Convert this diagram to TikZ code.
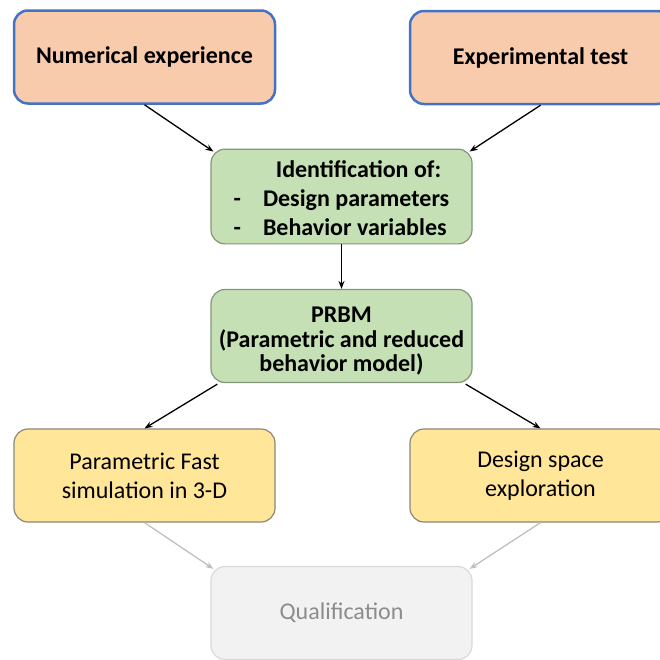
\documentclass[tikz,border=0pt]{standalone}
\usepackage{fontspec}
\setmainfont{Carlito}
\usetikzlibrary{calc,arrows.meta}
\definecolor{srcfill}{HTML}{F8CBAD}
\definecolor{srcline}{HTML}{4472C4}
\definecolor{idfill}{HTML}{C5E0B4}
\definecolor{idline}{HTML}{85957C}
\definecolor{outfill}{HTML}{FFE699}
\definecolor{outline}{HTML}{8A8778}
\definecolor{qfill}{HTML}{F2F2F2}
\definecolor{qline}{HTML}{D9D9D9}
\definecolor{qtext}{HTML}{8C8C8C}
\definecolor{qarrow}{HTML}{BFBFBF}

\begin{document}
\begin{tikzpicture}[>={Stealth[length=8pt,width=6pt]},x=1pt,y=-1pt,
  box/.style={rounded corners=14pt,minimum width=261pt,minimum height=93pt,
    align=center,inner sep=0pt,font=\fontsize{24}{29}\selectfont},
  srcbox/.style={box,draw=srcline,line width=2.5pt,fill=srcfill,
    font=\fontsize{24}{29}\selectfont\bfseries},
  idbox/.style={box,draw=idline,line width=1.2pt,fill=idfill,
    font=\fontsize{24}{29}\selectfont\bfseries},
  outbox/.style={box,draw=outline,line width=1.2pt,fill=outfill},
  qbox/.style={box,draw=qline,line width=1.2pt,fill=qfill,text=qtext},
  link/.style={->,line width=1.3pt,black},
  qlink/.style={->,line width=1.3pt,qarrow}]
  \useasboundingbox (0,0) rectangle (660,659);
  \clip (0,0) rectangle (660,659);

  % sources
  \node[srcbox] (num) at (144.5,57) {Numerical experience};
  \node[srcbox] (exp) at (540.5,57.5) {Experimental test};

  % identification and reduced model
  \node[idbox] (ident) at (341.5,196.5) {\begin{tabular}{@{}l@{\hspace{22pt}}l@{}}
      \multicolumn{2}{c}{\rule{0pt}{28pt}\hspace{34pt}Identification of:}\\
      - & Design parameters\\
      - & Behavior variables
    \end{tabular}};
  \node[idbox,font=\fontsize{24}{24.5}\selectfont\bfseries] (prbm) at (341.5,336)
    {\rule{0pt}{26pt}PRBM\\(Parametric and reduced\\behavior model)};

  % uses of the model
  \node[outbox] (sim) at (144.5,475.5) {Parametric Fast\\simulation in 3-D};
  \node[outbox] (dse) at (540.5,475.5) {Design space\\exploration};
  \node[qbox] (qual) at (341.5,613) {Qualification};

  \draw[link] (num.south) -- ($(ident.north west)+(3,3)$);
  \draw[link] (exp.south) -- ($(ident.north east)+(-3,3)$);
  \draw[link] (ident.south) -- (prbm.north);
  \draw[link] ($(prbm.south west)+(7,1)$) -- (sim.north);
  \draw[link] ($(prbm.south east)+(-7,1)$) -- (dse.north);
  \draw[qlink] (sim.south) -- ($(qual.north west)+(3,3)$);
  \draw[qlink] (dse.south) -- ($(qual.north east)+(-3,3)$);
\end{tikzpicture}
\end{document}
